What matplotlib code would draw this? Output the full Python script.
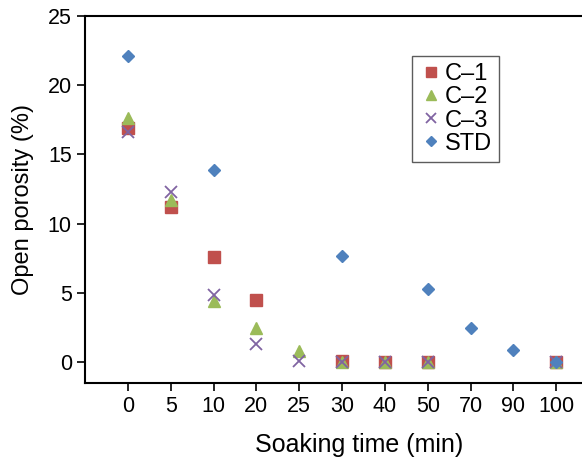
import numpy as np
import matplotlib
matplotlib.use("Agg")
import matplotlib.pyplot as plt

plt.rcParams["font.family"] = ["Liberation Sans", "DejaVu Sans"]

times = ["0", "5", "10", "20", "25", "30", "40", "50", "70", "90", "100"]
c1 = [16.9, 11.2, 7.6, 4.5, np.nan, 0.1, 0.0, 0.0, np.nan, np.nan, 0.0]
c2 = [17.6, 11.7, 4.4, 2.5, 0.8, 0.0, 0.0, 0.0, np.nan, np.nan, 0.0]
c3 = [16.6, 12.3, 4.85, 1.3, 0.1, 0.0, 0.0, 0.0, np.nan, np.nan, 0.0]
std = [22.1, np.nan, 13.9, np.nan, np.nan, 7.7, np.nan, 5.25, 2.45, 0.87, 0.0]

fig = plt.figure(figsize=(5.82, 4.57), dpi=100)
ax = fig.add_axes([0.146, 0.162, 0.854, 0.803])

x = np.arange(len(times))
ax.plot(x, c1, "s", color="#C0504D", markersize=8, label="C\u20131", linestyle="none")
ax.plot(x, c2, "^", color="#9BBB59", markersize=8.5, label="C\u20132", linestyle="none")
ax.plot(x, c3, "x", color="#8064A2", markersize=8.5, markeredgewidth=1.3, label="C\u20133", linestyle="none")
ax.plot(x, std, "D", color="#4F81BD", markersize=6.5, label="STD", linestyle="none")

ax.set_xlim(-1, 10.6)
ax.set_ylim(-1.5, 25)
ax.set_xticks(x)
ax.set_xticklabels(times)
ax.set_yticks([0, 5, 10, 15, 20, 25])
ax.tick_params(direction="out", length=6, width=1.2, labelsize=15.5)
ax.spines["right"].set_visible(False)
for s in ["left", "bottom", "top"]:
    ax.spines[s].set_linewidth(1.5)

ax.set_xlabel("Soaking time (min)", fontsize=18)
ax.xaxis.set_label_coords(0.551, -0.135)
ax.set_ylabel("Open porosity (%)", fontsize=17, labelpad=10)

leg = ax.legend(loc="upper left", bbox_to_anchor=(0.634, 0.923), fontsize=17,
                frameon=True, fancybox=False, edgecolor="#333333",
                handletextpad=0.1, handlelength=1.0, borderpad=0.3,
                labelspacing=0.05, markerscale=0.85)
leg.get_frame().set_linewidth(1.0)

fig.savefig("out.png", dpi=100)
